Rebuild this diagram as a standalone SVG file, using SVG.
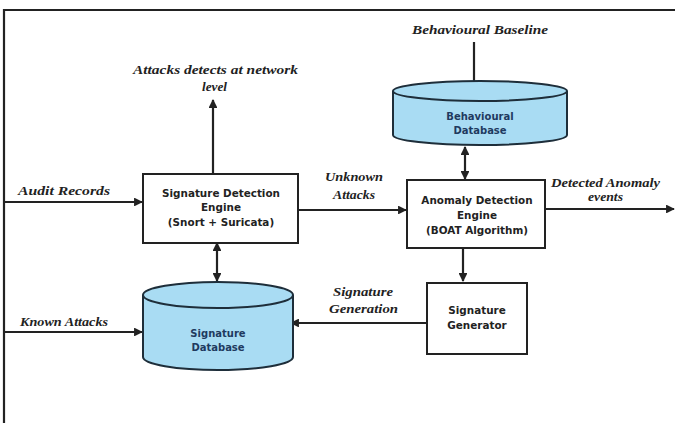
<svg xmlns="http://www.w3.org/2000/svg" width="675" height="423" viewBox="0 0 675 423">
<style>
.lbl{font-family:"Liberation Serif","Times New Roman",serif;font-style:italic;font-weight:bold;font-size:13.5px;fill:#222}
.nt{font-family:"DejaVu Sans","Verdana",sans-serif;font-weight:bold;font-size:10.4px;fill:#222;text-anchor:middle}
.dt{font-family:"DejaVu Sans","Verdana",sans-serif;font-weight:bold;font-size:10px;fill:#1f3a5f;text-anchor:middle}
.box{fill:#fff;stroke:#222;stroke-width:2}
.cyl{fill:#a9dcf3;stroke:#1e2e3a;stroke-width:2}
.ln{stroke:#222;stroke-width:2.2;fill:none}
</style>
<defs>
<marker id="ah" viewBox="0 0 10 10" refX="9" refY="5" markerWidth="4" markerHeight="4" orient="auto-start-reverse">
<path d="M0,0 L10,5 L0,10 z" fill="#222"/>
</marker>
</defs>
<rect width="675" height="423" fill="#fff"/>
<g id="frame">
<path class="ln" d="M4,423 V10 H675"/>
</g>
<g id="connectors">
<line class="ln" x1="4" y1="202" x2="142" y2="202" marker-end="url(#ah)"/>
<line class="ln" x1="213" y1="174" x2="213" y2="100" marker-end="url(#ah)"/>
<line class="ln" x1="298" y1="210" x2="406" y2="210" marker-end="url(#ah)"/>
<line class="ln" x1="474" y1="42" x2="474" y2="90" marker-end="url(#ah)"/>
<line class="ln" x1="465" y1="147" x2="465" y2="179" marker-start="url(#ah)" marker-end="url(#ah)"/>
<line class="ln" x1="545" y1="209" x2="674" y2="209" marker-end="url(#ah)"/>
<line class="ln" x1="463" y1="248" x2="463" y2="281" marker-end="url(#ah)"/>
<line class="ln" x1="427" y1="323" x2="291" y2="323" marker-end="url(#ah)"/>
<line class="ln" x1="217" y1="243" x2="217" y2="281" marker-start="url(#ah)" marker-end="url(#ah)"/>
<line class="ln" x1="4" y1="332" x2="142" y2="332" marker-end="url(#ah)"/>
</g>
<g id="labels">
<text class="lbl" x="133" y="74" textLength="165" lengthAdjust="spacingAndGlyphs">Attacks detects at network</text>
<text class="lbl" x="202" y="91" textLength="25" lengthAdjust="spacingAndGlyphs">level</text>
<text class="lbl" x="18" y="195" textLength="92" lengthAdjust="spacingAndGlyphs">Audit Records</text>
<text class="lbl" x="325" y="181" textLength="58" lengthAdjust="spacingAndGlyphs">Unknown</text>
<text class="lbl" x="333" y="199" textLength="42" lengthAdjust="spacingAndGlyphs">Attacks</text>
<text class="lbl" x="412" y="34" textLength="136" lengthAdjust="spacingAndGlyphs">Behavioural Baseline</text>
<text class="lbl" x="551" y="187" textLength="109" lengthAdjust="spacingAndGlyphs">Detected Anomaly</text>
<text class="lbl" x="588" y="201" textLength="35" lengthAdjust="spacingAndGlyphs">events</text>
<text class="lbl" x="333" y="296" textLength="60" lengthAdjust="spacingAndGlyphs">Signature</text>
<text class="lbl" x="329" y="313" textLength="69" lengthAdjust="spacingAndGlyphs">Generation</text>
<text class="lbl" x="20" y="326" textLength="88" lengthAdjust="spacingAndGlyphs">Known Attacks</text>
</g>
<g id="sde">
<rect class="box" x="143" y="174" width="155" height="69"/>
<text class="nt" x="221" y="197">Signature Detection</text>
<text class="nt" x="221" y="211">Engine</text>
<text class="nt" x="221" y="226">(Snort + Suricata)</text>
</g>
<g id="ade">
<rect class="box" x="407" y="180" width="138" height="68"/>
<text class="nt" x="477" y="204">Anomaly Detection</text>
<text class="nt" x="477" y="219">Engine</text>
<text class="nt" x="477" y="234">(BOAT Algorithm)</text>
</g>
<g id="sg">
<rect class="box" x="427" y="283" width="100" height="71"/>
<text class="nt" x="477" y="314">Signature</text>
<text class="nt" x="477" y="329">Generator</text>
</g>
<g id="bdb">
<path class="cyl" d="M393,91 V135 A87,10 0 0 0 567,135 V91"/>
<ellipse class="cyl" cx="480" cy="91" rx="87" ry="10"/>
<text class="dt" x="480" y="120">Behavioural</text>
<text class="dt" x="480" y="134">Database</text>
</g>
<g id="sdb">
<path class="cyl" d="M143,295 V357 A75,13 0 0 0 293,357 V295"/>
<ellipse class="cyl" cx="218" cy="295" rx="75" ry="13"/>
<text class="dt" x="218" y="337">Signature</text>
<text class="dt" x="218" y="351">Database</text>
</g>
</svg>
